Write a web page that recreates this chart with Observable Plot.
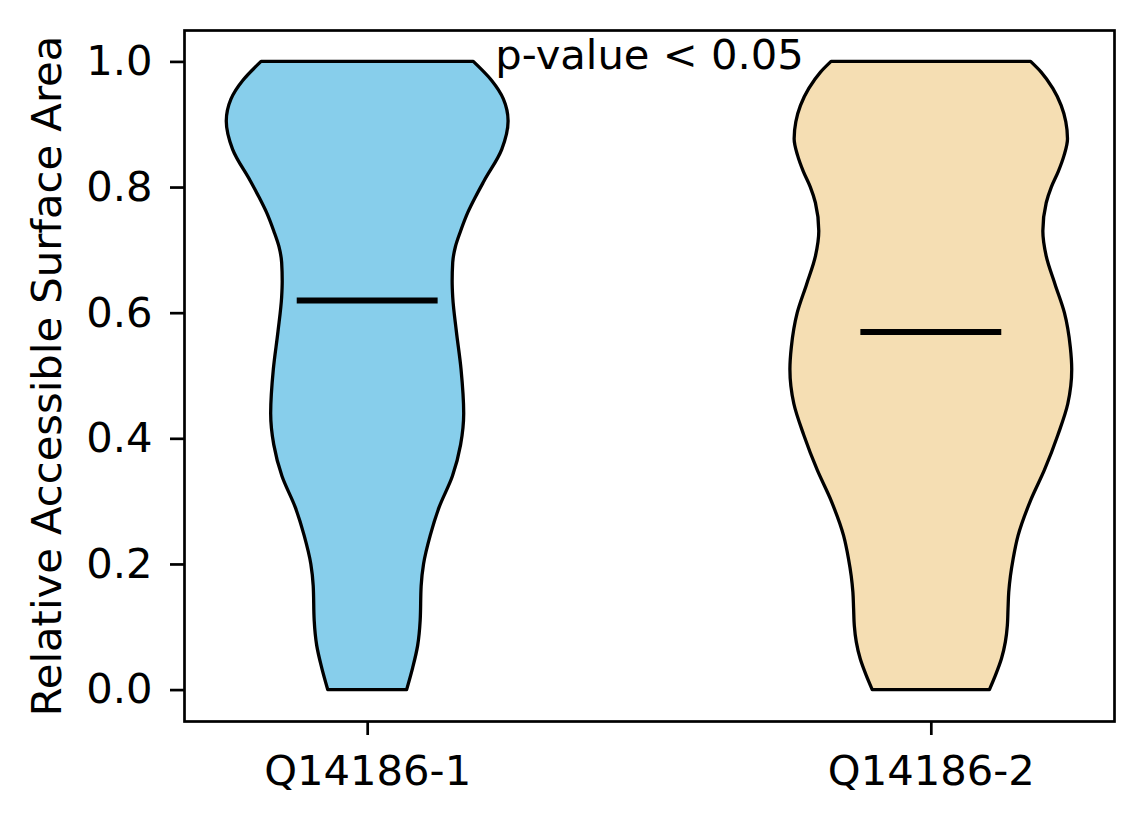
<!DOCTYPE html>
<html>
<head>
<meta charset="utf-8">
<script src="https://cdn.jsdelivr.net/npm/d3@7"></script>
<script src="https://cdn.jsdelivr.net/npm/@observablehq/plot@0.6"></script>
<style>
  html, body { margin: 0; padding: 0; background: #fff; }
  #chart svg { display: block; }
</style>
</head>
<body>
<div id="chart"></div>
<script>
// Categories and positions
const categories = ["Q14186-1", "Q14186-2"];
const positions = [1, 2];
const colors = ["#87CEEB", "#F5DEB3"];

// Violin 1 (Q14186-1): relative density profile along RSA
const rsa1 = [0, 0.035, 0.07, 0.11, 0.165, 0.2, 0.245, 0.29, 0.34, 0.39, 0.44, 0.51, 0.57, 0.625, 0.65, 0.68, 0.705, 0.73, 0.76, 0.785, 0.81, 0.86, 0.905, 0.94, 0.97, 1.0];
const density1 = [0.280, 0.323, 0.358, 0.376, 0.383, 0.400, 0.447, 0.510, 0.605, 0.663, 0.685, 0.666, 0.633, 0.607, 0.603, 0.607, 0.626, 0.663, 0.715, 0.770, 0.830, 0.955, 1.0, 0.967, 0.882, 0.753];

// Violin 2 (Q14186-2)
const rsa2 = [0, 0.023, 0.049, 0.076, 0.102, 0.129, 0.155, 0.181, 0.208, 0.245, 0.3, 0.35, 0.405, 0.455, 0.51, 0.545, 0.6, 0.645, 0.69, 0.73, 0.775, 0.8, 0.825, 0.85, 0.877, 0.904, 0.93, 0.957, 0.983, 1.0];
const density2 = [0.416, 0.459, 0.501, 0.529, 0.543, 0.548, 0.553, 0.565, 0.584, 0.619, 0.706, 0.807, 0.901, 0.972, 1.0, 0.990, 0.948, 0.882, 0.819, 0.795, 0.819, 0.855, 0.905, 0.945, 0.970, 0.958, 0.925, 0.866, 0.783, 0.708];

// Medians
const medians = [0.62, 0.57];

// Y ticks
const yTicks = [0, 0.2, 0.4, 0.6, 0.8, 1.0];

// Annotation
const annotation = "p-value < 0.05";

const halfWidth = 0.25;   // violin max half-width (data units)
const medianHalf = 0.125; // median line half-length

const rows = [];
[[rsa1, density1], [rsa2, density2]].forEach(([ys, ds], i) => {
  ys.forEach((y, j) => rows.push({cat: categories[i], pos: positions[i], y, d: ds[j]}));
});
const medianRows = categories.map((c, i) => ({cat: c, pos: positions[i], m: medians[i]}));

const fs = 41.7;
const chart = Plot.plot({
  width: 1144,
  height: 824,
  marginLeft: 184,
  marginRight: 30,
  marginTop: 30,
  marginBottom: 103,
  style: {fontFamily: "DejaVu Sans", fontSize: fs + "px", color: "black", background: "white"},
  x: {domain: [0.675, 2.325], axis: null},
  y: {domain: [-0.05, 1.05], axis: null},
  color: {domain: categories, range: colors},
  marks: [
    Plot.areaX(rows, {
      y: "y",
      x1: d => d.pos - halfWidth * d.d,
      x2: d => d.pos + halfWidth * d.d,
      z: "cat",
      fill: "cat",
      fillOpacity: 1,
      stroke: "black",
      strokeWidth: 3.3,
      curve: "monotone-y"
    }),
    Plot.ruleY(medianRows, {
      y: "m",
      x1: d => d.pos - medianHalf,
      x2: d => d.pos + medianHalf,
      stroke: "black",
      strokeWidth: 6
    }),
    Plot.axisY({
      ticks: yTicks,
      tickFormat: d3.format(".1f"),
      tickSize: 14,
      tickPadding: 18,
      strokeWidth: 2.7,
      fontSize: fs,
      label: "Relative Accessible Surface Area",
      labelAnchor: "center",
      labelArrow: "none",
      labelOffset: 153
    }),
    Plot.axisX({
      ticks: positions,
      tickFormat: d => categories[positions.indexOf(d)],
      tickSize: 14,
      tickPadding: 20,
      strokeWidth: 2.7,
      fontSize: fs,
      label: null
    }),
    Plot.frame({stroke: "black", strokeWidth: 2.7}),
    Plot.text([annotation], {
      x: 1.5,
      y: 1.0,
      text: d => d,
      fontSize: fs,
      fill: "black",
      lineAnchor: "middle",
      dy: -6
    })
  ]
});
document.getElementById("chart").appendChild(chart);
</script>
</body>
</html>
